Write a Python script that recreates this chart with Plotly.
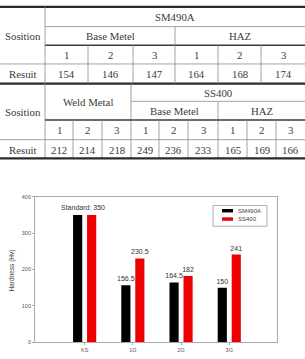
import plotly.graph_objects as go

W, H = 305, 359

# ---------------- data ----------------
categories = ["KS", "1G", "2G", "3G"]
sm490a = [350, 156.5, 164.5, 150]
ss400 = [350, 230.5, 182, 241]
sm490a_labels = ["", "156.5", "164.5", "150"]
ss400_labels = ["", "230.5", "182", "241"]
standard_label = "Standard: 350"

t1_groups = ["Base Metel", "HAZ"]
t1_sub = ["1", "2", "3", "1", "2", "3"]
t1_result = [154, 146, 147, 164, 168, 174]

t2_groups = ["Weld Metal", "Base Metel", "HAZ"]
t2_sub = ["1", "2", "3", "1", "2", "3", "1", "2", "3"]
t2_result = [212, 214, 218, 249, 236, 233, 165, 169, 166]

# ---------------- helpers ----------------
def px(x):
    return x / W

def py(y):
    return (H - y) / H

shapes = []
annos = []
SERIF = "Liberation Serif"
TCOL = "#3a3a3a"
TS = 10.8

def hline(y, x0, x1, w=0.8, c="#8a8a8a"):
    shapes.append(dict(type="line", xref="paper", yref="paper",
                       x0=px(x0), x1=px(x1), y0=py(y), y1=py(y),
                       line=dict(color=c, width=w)))

def vline(x, y0, y1, w=0.8, c="#8a8a8a"):
    shapes.append(dict(type="line", xref="paper", yref="paper",
                       x0=px(x), x1=px(x), y0=py(y0), y1=py(y1),
                       line=dict(color=c, width=w)))

def txt(s, x, y, size=TS, font=SERIF, color=TCOL, **kw):
    d = dict(text=s, xref="paper", yref="paper", x=px(x), y=py(y),
             showarrow=False, xanchor="center", yanchor="middle",
             font=dict(family=font, size=size, color=color))
    d.update(kw)
    annos.append(d)

THICK = dict(w=2.2, c="#2a2a2a")
MID = dict(w=1.4, c="#3a3a3a")

# ---------------- table 1 ----------------
hline(4, 0, W, **THICK)
hline(24, 45, W)
hline(43, 45, W, **MID)
hline(62, 0, W)
hline(82, 0, W, **THICK)
vline(45, 4, 82)
vline(175, 24, 82)
t1_bounds = [45, 88, 133, 175, 218, 261, 305]
for xb in t1_bounds[1:-1]:
    if xb != 175:
        vline(xb, 43, 82)
txt("SM490A", 175, 14.5)
txt("Sosition", 22.5, 33.5)
txt(t1_groups[0], 110, 34)
txt(t1_groups[1], 240, 34)
for i, s in enumerate(t1_sub):
    cx = (t1_bounds[i] + t1_bounds[i + 1]) / 2
    txt(s, cx, 53)
    txt(str(t1_result[i]), cx, 72.5)
txt("Resuit", 22.5, 72.5)

# ---------------- table 2 ----------------
vline(45, 82, 158)
vline(131, 82, 158)
hline(100, 131, W)
vline(218, 100, 158)
hline(119, 45, W, **MID)
t2_bounds = [45, 73, 102, 131, 159, 188, 218, 247, 276, 305]
for xb in t2_bounds[1:-1]:
    if xb not in (131, 218):
        vline(xb, 119, 158)
hline(139, 0, W)
hline(158, 0, W, **THICK)
txt(t2_groups[0], 88, 101)
txt("SS400", 218, 91.5)
txt(t2_groups[1], 174.5, 110)
txt(t2_groups[2], 261.5, 110)
txt("Sosition", 22.5, 111)
for i, s in enumerate(t2_sub):
    cx = (t2_bounds[i] + t2_bounds[i + 1]) / 2
    txt(s, cx, 129.5)
    txt(str(t2_result[i]), cx, 149)
txt("Resuit", 22.5, 149)

# ---------------- bar chart ----------------
SANS = "Liberation Sans"
LBL = dict(family=SANS, size=7, color="#333")
xs = list(range(len(categories)))
fig = go.Figure()
fig.add_trace(go.Bar(x=xs, y=sm490a, name="SM490A", marker=dict(color="black", line=dict(width=0)),
                     width=0.19, offset=-0.24, text=sm490a_labels, textposition="outside",
                     cliponaxis=False, constraintext="none", textfont=LBL))
fig.add_trace(go.Bar(x=xs, y=ss400, name="SS400", marker=dict(color="#ee0000", line=dict(width=0)),
                     width=0.19, offset=0.05, text=ss400_labels, textposition="outside",
                     cliponaxis=False, constraintext="none", textfont=LBL))

annos.append(dict(text=standard_label, x=-0.04, y=sm490a[0], xref="x", yref="y",
                  showarrow=False, yanchor="bottom", yshift=2, font=LBL))

# custom legend
shapes.append(dict(type="rect", xref="paper", yref="paper", x0=px(213), x1=px(267),
                   y0=py(227), y1=py(206), line=dict(color="#999", width=0.8), fillcolor="white"))
shapes.append(dict(type="rect", xref="paper", yref="paper", x0=px(222), x1=px(233),
                   y0=py(213), y1=py(209.5), line=dict(width=0), fillcolor="black"))
shapes.append(dict(type="rect", xref="paper", yref="paper", x0=px(222), x1=px(233),
                   y0=py(221.5), y1=py(218), line=dict(width=0), fillcolor="#ee0000"))
txt("SM490A", 236, 211.2, size=6, font=SANS, color="#444", xanchor="left")
txt("SS400", 236, 219.8, size=6, font=SANS, color="#444", xanchor="left")

# y title
txt("Hardness (Hv)", 12, 272, size=6.5, font=SANS, color="#444", textangle=-90)

fig.update_layout(
    width=W, height=H, margin=dict(l=0, r=0, t=0, b=0),
    paper_bgcolor="white", plot_bgcolor="white",
    showlegend=False, barmode="overlay",
    shapes=shapes, annotations=annos,
    xaxis=dict(domain=[px(35), px(277)], range=[-1.03, 3.99],
               tickvals=xs, ticktext=categories, showgrid=False, zeroline=False,
               showline=True, linecolor="#aaa", linewidth=0.8, mirror=True,
               ticks="outside", ticklen=2, tickcolor="#aaa",
               tickfont=dict(family=SANS, size=5.5, color="#555")),
    yaxis=dict(domain=[py(345), py(197)], range=[0, 400], dtick=100,
               showgrid=False, zeroline=False,
               showline=True, linecolor="#aaa", linewidth=0.8, mirror=True,
               ticks="outside", ticklen=2, tickcolor="#aaa",
               tickfont=dict(family=SANS, size=5.5, color="#555")),
)

fig.write_html("out.html")
